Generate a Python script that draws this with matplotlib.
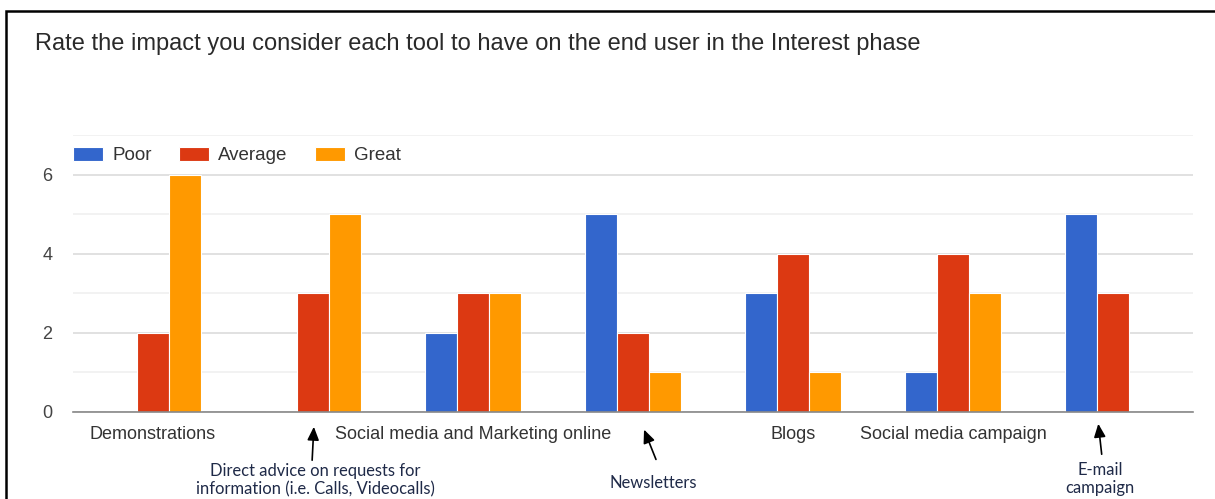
import matplotlib
matplotlib.use("Agg")
from matplotlib import pyplot as plt
from matplotlib.patches import Rectangle, FancyArrowPatch
import numpy as np

# data
tools = ["Demonstrations",
         "Direct advice on requests for\ninformation (i.e. Calls, Videocalls)",
         "Social media and Marketing online",
         "Newsletters",
         "Blogs",
         "Social media campaign",
         "E-mail\ncampaign"]
poor = [0, 0, 2, 5, 3, 1, 5]
average = [2, 3, 3, 2, 4, 4, 3]
great = [6, 5, 3, 1, 1, 3, 0]
series = ["Poor", "Average", "Great"]
colors = ["#3366cc", "#dc3912", "#ff9900"]

# labels shown under the axis by the chart itself, the others are annotated
shown = [0, 2, 4, 5]
annotated = [1, 3, 6]

plt.rcParams['font.family'] = ['Liberation Sans', 'DejaVu Sans']

W, H = 1215, 499
fig = plt.figure(figsize=(W / 100, H / 100), dpi=100)
fig.patch.set_facecolor("white")

# black frame (cut on right and bottom in the original screenshot)
fig.patches.append(Rectangle((6 / W, -0.1), 1.2, 1 - 11 / H + 0.1,
                             transform=fig.transFigure, fill=False,
                             edgecolor="black", linewidth=1.8))

fig.text(35 / W, 1 - 44 / H,
         "Rate the impact you consider each tool to have on the end user in the Interest phase",
         fontsize=17, color="#2a2a2a", va="center", ha="left")

ax = fig.add_axes([73 / W, 1 - 412 / H, (1193 - 73) / W, (412 - 135) / H])

x = np.arange(len(tools))
bw = 0.2
for i, (name, vals) in enumerate(zip(series, [poor, average, great])):
    ax.bar(x + (i - 1) * bw, vals, width=bw, color=colors[i], label=name,
           edgecolor="white", linewidth=0.8, zorder=3)

ax.set_xlim(-0.5, len(tools) - 0.5)
ax.set_ylim(0, 7)
ax.set_yticks([0, 2, 4, 6])
ax.set_yticks([1, 3, 5, 7], minor=True)
ax.grid(axis="y", which="major", color="#dcdcdc", linewidth=1.2, zorder=0)
ax.grid(axis="y", which="minor", color="#f0f0f0", linewidth=1.2, zorder=0)
ax.tick_params(axis="y", which="both", length=0, pad=15, labelsize=13, labelcolor="#444444")

ax.set_xticks([x[i] for i in shown])
ax.set_xticklabels([tools[i] for i in shown])
ax.tick_params(axis="x", length=0, pad=10, labelsize=13, labelcolor="#333333")

for s in ["top", "right", "left"]:
    ax.spines[s].set_visible(False)
ax.spines["bottom"].set_color("#888888")
ax.spines["bottom"].set_linewidth(1.2)
ax.spines["bottom"].set_zorder(4)

ax.legend(loc="center left", bbox_to_anchor=(0, 6.48 / 7), ncol=3, frameon=False,
          fontsize=13.5, handlelength=1.6, handleheight=0.8, handletextpad=0.5,
          columnspacing=1.45, borderpad=0, borderaxespad=0, labelcolor="#333333")

# hand-drawn annotations for the labels that were skipped
arrow_tail = {1: (312, 463), 3: (657, 462), 6: (1102, 457)}
arrow_tip = {1: (314, 424), 3: (643, 427), 6: (1098, 421)}
text_pos = {1: (315, 480), 3: (653, 483), 6: (1100, 479)}
for i in annotated:
    tx, ty = arrow_tail[i]
    hx, hy = arrow_tip[i]
    fig.add_artist(FancyArrowPatch(
        (tx / W, 1 - ty / H), (hx / W, 1 - hy / H), transform=fig.transFigure,
        arrowstyle="-|>,head_length=8,head_width=3.5", color="black", linewidth=1.2,
        mutation_scale=1))
    px, py = text_pos[i]
    fig.text(px / W, 1 - py / H, tools[i], fontsize=11.9, color="#1f2a48",
             ha="center", va="center", linespacing=1.15,
             family=["Lato", "DejaVu Sans"])

fig.savefig("out.png", dpi=100)
